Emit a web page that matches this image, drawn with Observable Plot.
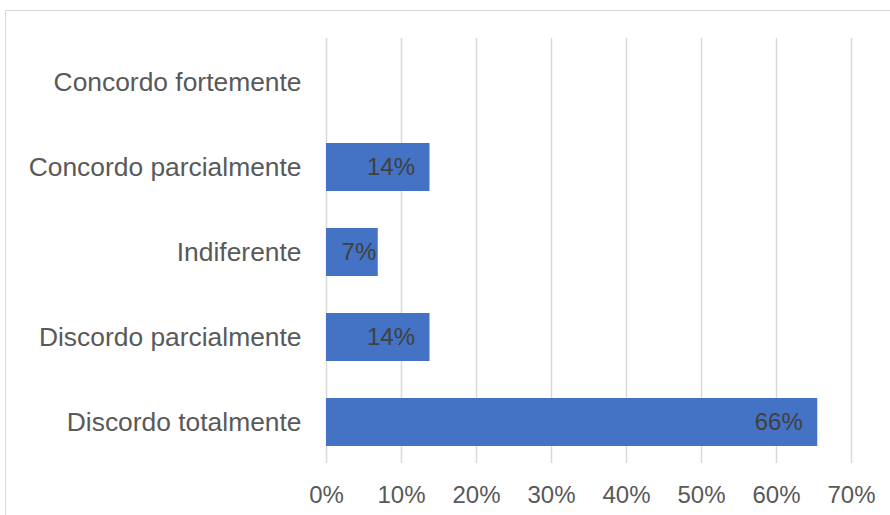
<!DOCTYPE html>
<html>
<head>
<meta charset="utf-8">
<script src="https://cdn.jsdelivr.net/npm/d3@7"></script>
<script src="https://cdn.jsdelivr.net/npm/@observablehq/plot@0.6"></script>
<style>
  html, body { margin: 0; padding: 0; background: #fff; }
  #wrap { position: relative; width: 890px; height: 515px; overflow: hidden; }
  #frame { position: absolute; left: 5px; top: 10px; width: 900px; height: 520px;
           border: 1.5px solid #d9d9d9; box-sizing: border-box; }
  #chart { position: absolute; left: 0; top: 0; }
  svg { font-family: "Liberation Sans", Arial, sans-serif; }
</style>
</head>
<body>
<div id="wrap"><div id="frame"></div><div id="chart"></div></div>
<script>
const categories = ["Concordo fortemente", "Concordo parcialmente", "Indiferente", "Discordo parcialmente", "Discordo totalmente"];
const values = [0, 0.138, 0.069, 0.138, 0.655];
const xTicks = [0, 0.1, 0.2, 0.3, 0.4, 0.5, 0.6, 0.7];

const data = categories.map((c, i) => ({category: c, value: values[i]}));
const fmt = d3.format(".0%");

const plot = Plot.plot({
  width: 890,
  height: 515,
  marginLeft: 326,
  marginRight: 39,
  marginTop: 38,
  marginBottom: 52,
  style: {fontFamily: "'Liberation Sans', Arial, sans-serif", background: "transparent"},
  x: {domain: [0, 0.7], ticks: xTicks, tickFormat: fmt},
  y: {domain: categories, range: [40, 465], padding: 0.435, paddingOuter: 0.2175},
  marks: [
    Plot.gridX(xTicks, {stroke: "#d9d9d9", strokeWidth: 1.5, strokeOpacity: 1}),
    Plot.barX(data.filter(d => d.value > 0), {x: "value", y: "category", fill: "#4472C4"}),
    Plot.text(data.filter(d => d.value > 0), {
      x: "value", y: "category", text: d => fmt(d.value),
      textAnchor: "end", fontSize: 24, fill: "#404040"
    }),
    Plot.axisX(xTicks, {tickSize: 0, tickPadding: 22, fontSize: 24, fill: "#595959", tickFormat: fmt, label: null}),
    Plot.axisY({tickSize: 0, tickPadding: 25, fontSize: 26.4, fill: "#595959", label: null})
  ]
});

document.getElementById("chart").appendChild(plot);
// value labels sit inside the bar end (15px margin); short bars keep the label hugging the end
d3.select(plot).selectAll("g[aria-label='text'] text").each(function() {
  const w = this.getComputedTextLength();
  const ctm = this.getCTM();
  const endX = ctm ? ctm.e + (+this.getAttribute("x") || 0) : 0;
  const barW = endX - 326;
  this.setAttribute("dx", (barW - w >= 30) ? -15 : -2);
});
</script>
</body>
</html>
